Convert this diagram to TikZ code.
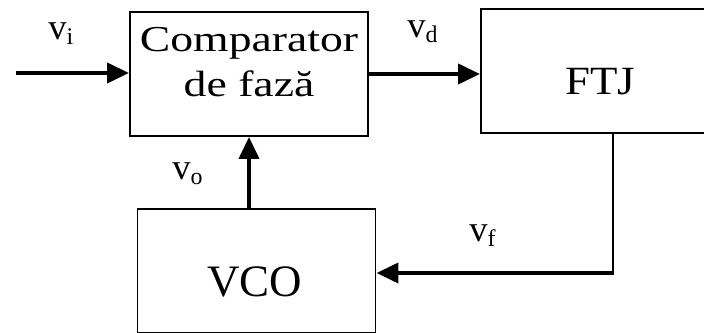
\documentclass[tikz,border=0pt]{standalone}
\usepackage{fontspec}
\setmainfont{Liberation Serif}
\newfontfamily\cmpfont[FakeStretch=1.25]{Liberation Serif}
\newfontfamily\ftjfont[FakeStretch=1.12]{Liberation Serif}
\usetikzlibrary{positioning,arrows.meta,calc}
\newcommand{\sig}[1]{v\raisebox{-3.5pt}{\fontsize{17}{18}\selectfont #1}}

\begin{document}
\begin{tikzpicture}[
    blk/.style={draw,line width=1.4pt,minimum width=5.95cm,minimum height=3.1cm},
    arr/.style={-{Triangle[length=5.5mm,width=5mm]},line width=2.8pt},
    wire/.style={line width=1.6pt},
    lbl/.style={anchor=base west,inner sep=0pt,font=\fontsize{26}{28}\selectfont}
  ]
  \useasboundingbox (0,0) rectangle (17.6,-8.325);

  % blocks
  \node[blk] (cmp) at (6.225,-1.85)  {};
  \node[blk] (ftj) at (15.0,-1.775)  {};
  \node[blk] (vco) at (6.4125,-6.775) {};

  % block texts
  \node[align=center,inner sep=0pt,font=\cmpfont\fontsize{26}{32}\selectfont] (tcmp)
    at (6.225,-1.55) {Comparator\\de fază};
  \node[anchor=base,inner sep=0pt,font=\ftjfont\fontsize{28.5}{30}\selectfont] (tftj)
    at (15.0,-2.375) {FTJ};
  \node[anchor=base,inner sep=0pt,font=\fontsize{32}{34}\selectfont] (tvco)
    at (6.375,-7.425) {VCO};

  % signals
  \coordinate (in) at (0.4,-1.825);
  \coordinate (fb) at (15.325,-6.825);
  \draw[arr] (in) -- (in -| cmp.west);
  \draw[arr] (cmp.east) -- (cmp.east -| ftj.west);
  \draw[arr] (cmp.south |- vco.north) -- (cmp.south);
  \draw[wire] (fb |- ftj.south) -- (fb);
  \draw[arr] ([xshift=0.8pt]fb) -- (fb -| vco.east);

  % labels
  \node[lbl] (vi) at (1.2,-1.0)    {\sig{i}};
  \node[lbl] (vd) at (10.175,-0.95) {\sig{d}};
  \node[lbl] (vo) at (4.3,-4.5)    {\sig{o}};
  \node[lbl] (vf) at (11.725,-6.05) {\sig{f}};

\end{tikzpicture}
\end{document}
